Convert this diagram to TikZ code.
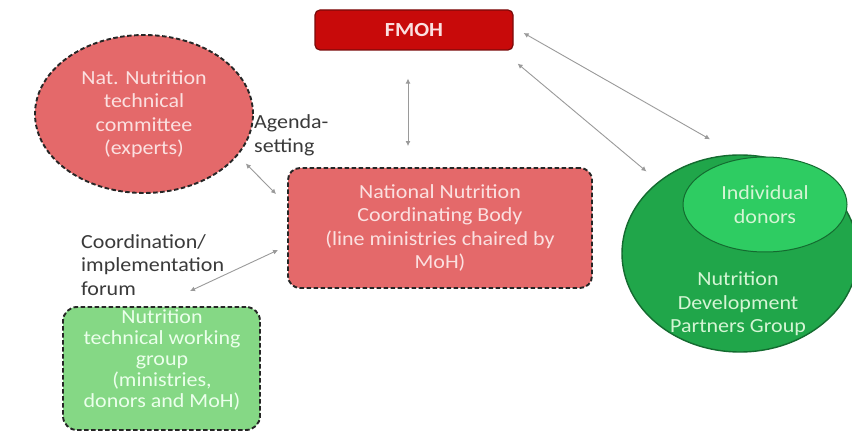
\documentclass[tikz,border=0pt]{standalone}
\usepackage{fontspec}
\setmainfont{Carlito}[FakeStretch=1.1]
\usetikzlibrary{shapes.geometric,arrows.meta}
\definecolor{fmohred}{HTML}{C80A0A}
\definecolor{fmohedge}{HTML}{7A0A0A}
\definecolor{salmon}{HTML}{E4696A}
\definecolor{pinktext}{HTML}{FBE0E0}
\definecolor{lgreen}{HTML}{85D885}
\definecolor{dgreen}{HTML}{20A64A}
\definecolor{mgreen}{HTML}{2ECC62}
\definecolor{edgegreen}{HTML}{146B30}
\definecolor{gtext}{HTML}{D4F5D4}
\definecolor{arrgray}{HTML}{9A9A9A}
\definecolor{labgray}{HTML}{3A3A3A}
\begin{document}
\begin{tikzpicture}[x=1pt,y=-1pt,
  dashedge/.style={draw=black!85, line width=1.9pt, dash pattern=on 4.5pt off 2.5pt},
  arr/.style={draw=arrgray, line width=0.9pt, {Latex[length=5pt,width=5pt]}-{Latex[length=5pt,width=5pt]}},
  txt/.style={font=\fontsize{20}{23.5}\selectfont, align=center},
  lab/.style={font=\fontsize{20}{23.5}\selectfont, align=left, text=labgray, inner sep=0pt},
]
\fill[white] (0,0) rectangle (852,443);
\clip (0,0) rectangle (852,443);

% nodes
\node[draw=fmohedge, line width=1.2pt, fill=fmohred, rounded corners=5pt,
      minimum width=198pt, minimum height=40pt, txt, text=pinktext,
      font=\fontsize{20}{23.5}\selectfont\bfseries] (fmoh) at (414,30) {FMOH};

\node[ellipse, dashedge, fill=salmon, minimum width=218pt, minimum height=158pt,
      inner sep=0pt, txt, text=pinktext] (nntc) at (144,114)
      {Nat. Nutrition\\technical\\committee\\(experts)};

\node[rectangle, rounded corners=12pt, dashedge, fill=salmon, minimum width=304pt,
      minimum height=120pt, txt, text=pinktext] (nncb) at (440,228)
      {National Nutrition\\Coordinating Body\\(line ministries chaired by\\MoH)};

\node[rectangle, rounded corners=14pt, dashedge, fill=lgreen, minimum width=197pt,
      minimum height=123pt] (ntwg) at (161.5,368.5) {};
\node[txt, font=\fontsize{20}{21}\selectfont, text=white!92!green] (ntwgtext) at (162,360)
      {Nutrition\\technical working\\group\\(ministries,\\donors and MoH)};

\node[ellipse, draw=edgegreen, line width=1.4pt, fill=dgreen, minimum width=236pt,
      minimum height=197pt, inner sep=0pt] (ndpg) at (740,253.5) {};
\node[ellipse, draw=edgegreen, line width=1pt, fill=mgreen, minimum width=164pt,
      minimum height=95pt, inner sep=0pt, txt, text=gtext] (donors) at (765,204.5)
      {Individual\\donors};
\node[txt, text=gtext] (ndpgtext) at (738,304) {Nutrition\\Development\\Partners Group};

\node[lab, anchor=west] (agenda) at (254,135.5) {Agenda-\\setting};
\node[lab, anchor=west] (coord) at (81,265) {Coordination/\\implementation\\forum};

% connectors
\draw[arr, shorten <=28pt, shorten >=21pt] ([xshift=-6pt]fmoh.south) -- ([xshift=-32pt]nncb.north);
\draw[arr] ([shift={(24,-7)}]nntc.south east) -- ([shift={(-11,27)}]nncb.north west);
\draw[arr] ([shift={(-9,22)}]nncb.west) -- ([shift={(28.5,-15)}]ntwg.north);
\draw[arr] ([shift={(10,3)}]fmoh.east) -- ([shift={(-30,-15)}]ndpg.north);
\draw[arr] ([shift={(4,13)}]fmoh.south east) -- ([shift={(-9.6,-11.9)}]ndpg.north west);
\end{tikzpicture}
\end{document}
